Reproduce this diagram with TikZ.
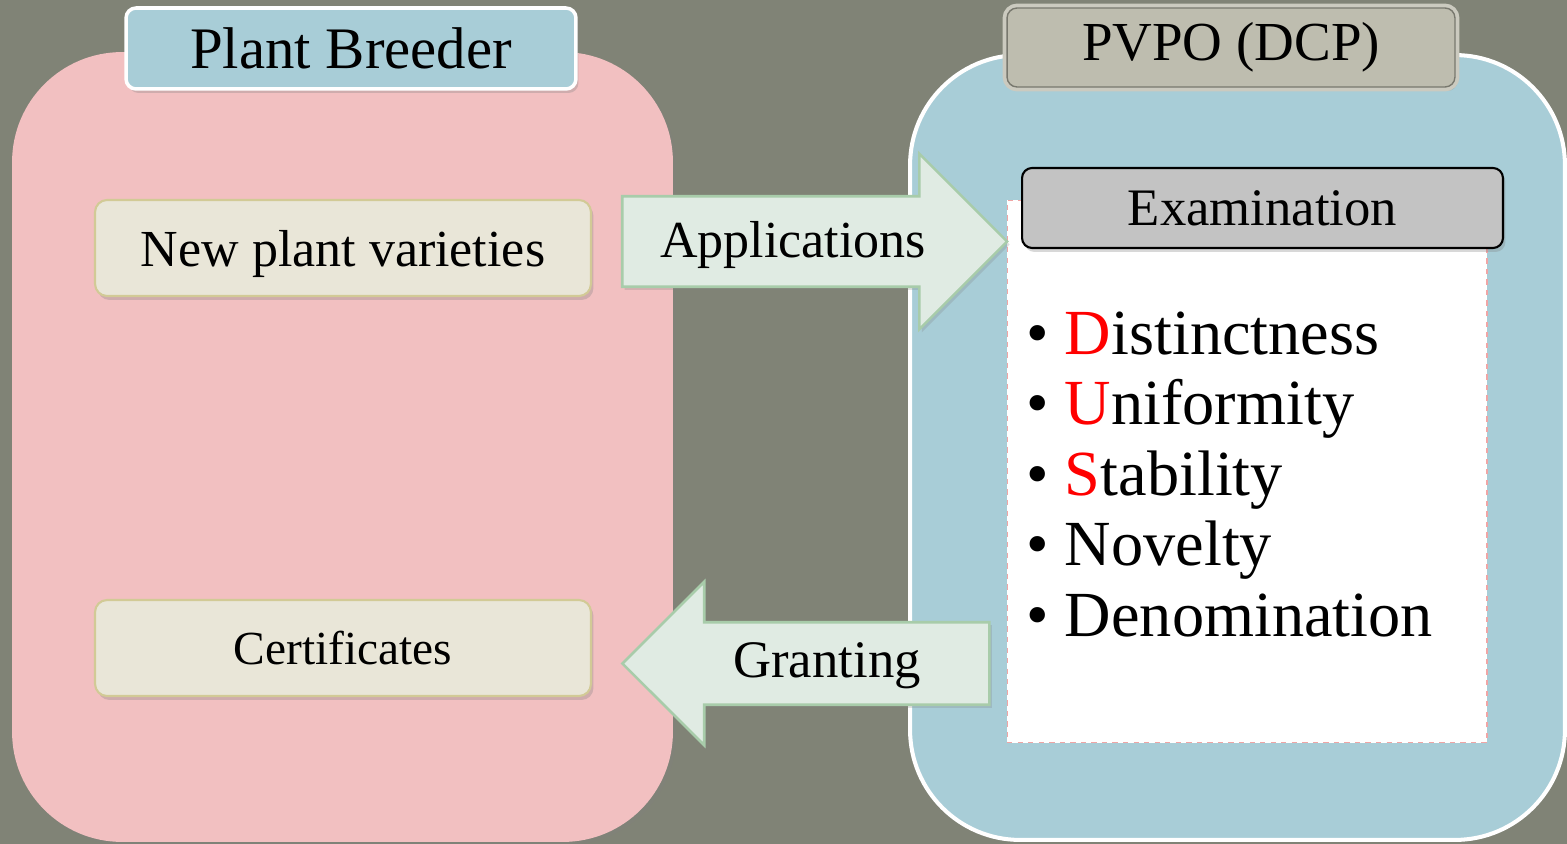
\documentclass[tikz,border=0pt]{standalone}
\usepackage{fontspec}
\setmainfont{Liberation Serif}
\usepackage{tikz}
\usetikzlibrary{shapes,positioning,shadows}
\usepackage{xcolor}
\definecolor{pvbg}{RGB}{128,131,118}
\definecolor{pvpink}{RGB}{242,192,193}
\definecolor{pvblue}{RGB}{168,205,215}
\definecolor{pvcream}{RGB}{233,230,216}
\definecolor{pvkhaki}{RGB}{210,202,150}
\definecolor{pvgrey}{RGB}{190,189,175}
\definecolor{pvgreyline}{RGB}{120,120,110}
\definecolor{pvexam}{RGB}{195,195,195}
\definecolor{pvarrow}{RGB}{224,235,227}
\definecolor{pvarrowline}{RGB}{168,204,170}
\definecolor{pvdash}{RGB}{240,165,165}
\tikzstyle{areabox} = [rectangle, rounded corners=2.2cm, inner sep=0pt]
\tikzstyle{titlebox} = [rectangle, rounded corners=0.2cm, text centered, inner sep=0pt, drop shadow={opacity=0.3, shadow xshift=0.05cm, shadow yshift=-0.08cm}]
\tikzstyle{itembox} = [rectangle, rounded corners=0.24cm, minimum width=9.92cm, minimum height=1.92cm, text centered, text depth=0pt, draw=pvkhaki, fill=pvcream, line width=1.2pt, drop shadow={opacity=0.3, shadow xshift=0.05cm, shadow yshift=-0.08cm}]
\tikzstyle{blockarrow} = [single arrow, single arrow tip angle=90, inner xsep=0pt, draw=pvarrowline, fill=pvarrow, line width=1.5pt, drop shadow={opacity=0.25, shadow xshift=0.05cm, shadow yshift=-0.06cm}]

\begin{document}
\begin{tikzpicture}[x=0.02cm, y=-0.02cm]
\useasboundingbox (0,0) rectangle (1567,844);
\fill[pvbg] (0,0) rectangle (1567,844);

% Plant breeder side
\node[areabox, fill=pvpink, minimum width=13.22cm, minimum height=15.8cm, drop shadow={opacity=0.25, shadow xshift=0.06cm, shadow yshift=-0.06cm}] (breeder) at (342.5, 447) {};
\node[titlebox, draw=white, fill=pvblue, line width=2pt, minimum width=9cm, minimum height=1.62cm, font=\fontsize{33.5}{36}\selectfont] (breedertitle) at (351, 48.5) {Plant Breeder};
\node[itembox, font=\fontsize{29.6}{32}\selectfont] (varieties) at (343, 248) {New plant varieties};
\node[itembox, font=\fontsize{27}{30}\selectfont] (certs) at (343, 648) {Certificates};

% PVPO side
\node[areabox, draw=white, fill=pvblue, line width=2.3pt, minimum width=13.1cm, minimum height=15.7cm] (pvpo) at (1237.5, 447.5) {};
\node[titlebox, draw=pvgreyline, fill=pvgrey, line width=0.8pt, preaction={draw=pvgrey!80!white, line width=5pt}, minimum width=8.96cm, minimum height=1.58cm, font=\fontsize{31.3}{34}\selectfont] (pvpotitle) at (1231, 47.5) {PVPO (DCP)};

% Examination panel
\node[rectangle, draw=pvdash, dashed, fill=white, line width=0.6pt, minimum width=9.6cm, minimum height=10.86cm] (panel) at (1247, 471.5) {};
\node[titlebox, draw=black, fill=pvexam, line width=1.2pt, minimum width=9.62cm, minimum height=1.6cm, font=\fontsize{30}{32}\selectfont] (exam) at (1262.5, 208) {Examination};
\foreach \crit [count=\i from 0] in {{\textcolor{red}{D}istinctness}, {\textcolor{red}{U}niformity}, {\textcolor{red}{S}tability}, {Novelty}, {Denomination}}
  \node[anchor=base west, inner sep=0pt, font=\fontsize{36.6}{40}\selectfont] (crit\i) at (1026, 354+70.5*\i) {\textbullet\ \crit};

% Arrows
\node[blockarrow, inner ysep=0.88cm, single arrow head extend=0.85cm, minimum height=7.7cm, minimum width=3.46cm] (applarrow) at (792, 241.5) {};
\node[font=\fontsize{29.6}{32}\selectfont] (appltext) at (793, 245) {Applications};
\node[blockarrow, shape border rotate=180, inner ysep=0.8cm, single arrow head extend=0.81cm, minimum height=7.34cm, minimum width=3.22cm] (grantarrow) at (826.5, 663.5) {};
\node[font=\fontsize{30}{32}\selectfont] (granttext) at (827, 666) {Granting};
\end{tikzpicture}
\end{document}
